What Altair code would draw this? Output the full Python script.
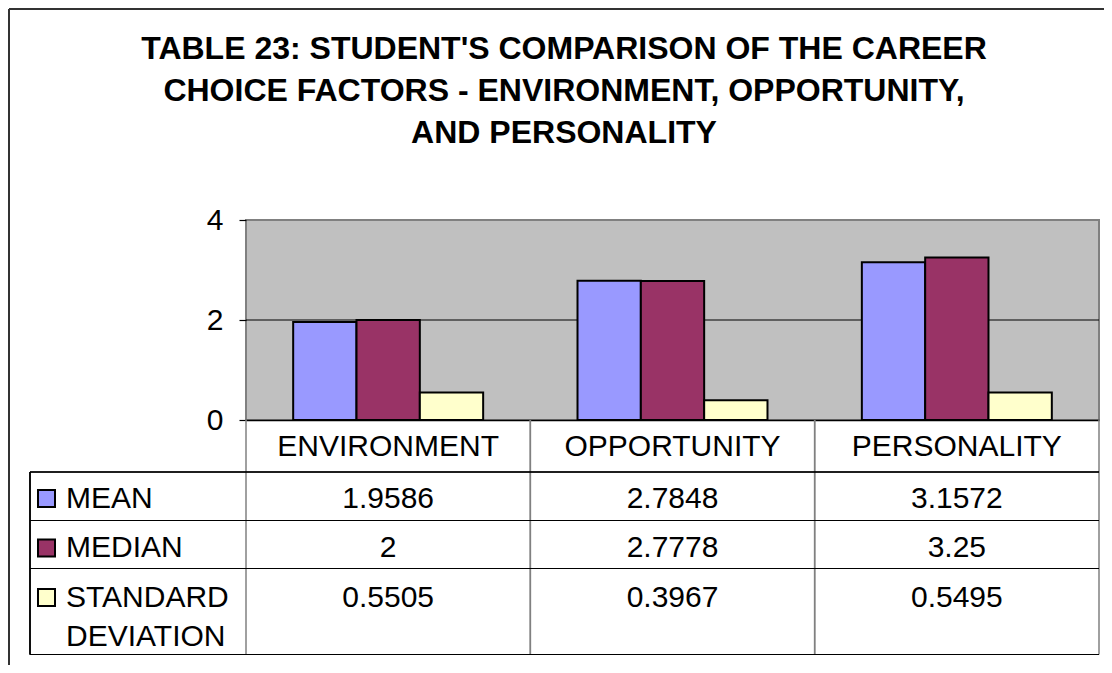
import altair as alt
import pandas as pd

# ---- data ----
categories = ["ENVIRONMENT", "OPPORTUNITY", "PERSONALITY"]
series = ["MEAN", "MEDIAN", "STANDARD DEVIATION"]
series_labels = ["MEAN", "MEDIAN", "STANDARD\nDEVIATION"]
mean = [1.9586, 2.7848, 3.1572]
median = [2, 2.7778, 3.25]
std_dev = [0.5505, 0.3967, 0.5495]
colors = ["#9999FF", "#993366", "#FFFFCC"]
y_ticks = [0, 2, 4]
title_lines = [
    "TABLE 23: STUDENT'S COMPARISON OF THE CAREER",
    "CHOICE FACTORS - ENVIRONMENT, OPPORTUNITY,",
    "AND PERSONALITY",
]

rows = []
for s, vals in zip(series, [mean, median, std_dev]):
    for c, v in zip(categories, vals):
        rows.append({"cat": c, "series": s, "value": v, "text": str(v)})
df = pd.DataFrame(rows)
legend_df = pd.DataFrame({"series": series, "label": series_labels})
cat_df = pd.DataFrame({"cat": categories})

FONT = "Liberation Sans"
W, H = 853, 200

x_scale = alt.Scale(domain=categories, paddingInner=0, paddingOuter=0)
y_scale = alt.Scale(domain=[0, 4], nice=False)
color_scale = alt.Scale(domain=series, range=colors)
row_scale = alt.Scale(domain=series, type="point", range=[287.5, 386.5], padding=0)

x_axis = alt.Axis(title=None, orient="bottom", domain=True, domainColor="black",
                  domainWidth=1.5, ticks=False, tickSize=0, labelFontSize=30,
                  labelFont=FONT, labelColor="black", labelPadding=26,
                  labelBaseline="middle", labelAngle=0, labelLimit=400)
y_axis = alt.Axis(title=None, orient="left", values=y_ticks, grid=False, domain=False,
                  ticks=True, tickSize=7, tickColor="black", tickWidth=1.2,
                  labelFontSize=30, labelFont=FONT, labelColor="black",
                  labelPadding=16)

# ---- bar plot ----
grid = alt.Chart(pd.DataFrame({"value": [2]})).mark_rule(color="black", strokeWidth=1).encode(
    y=alt.Y("value:Q", scale=y_scale, axis=y_axis)
)
bars = alt.Chart(df).mark_bar(stroke="black", strokeWidth=2).encode(
    x=alt.X("cat:N", scale=x_scale, sort=categories, axis=x_axis),
    xOffset=alt.XOffset("series:N", sort=series,
                        scale=alt.Scale(domain=series, paddingInner=0, paddingOuter=0.745)),
    y=alt.Y("value:Q", scale=y_scale, axis=y_axis),
    color=alt.Color("series:N", scale=color_scale, legend=None),
)
plot = alt.layer(grid, bars)

# ---- data table ----
vals_text = alt.Chart(df).mark_text(font=FONT, fontSize=30, baseline="alphabetic",
                                    align="center", color="black").encode(
    x=alt.X("cat:N", scale=x_scale, sort=categories, axis=x_axis),
    y=alt.Y("series:N", scale=row_scale, axis=None),
    text="text:N",
)
labels = alt.Chart(legend_df).mark_text(font=FONT, fontSize=30, baseline="alphabetic",
                                        align="left", lineBreak="\n", lineHeight=39,
                                        color="black").encode(
    x=alt.value(-180),
    y=alt.Y("series:N", scale=row_scale, axis=None),
    text="label:N",
)
swatches = alt.Chart(legend_df).mark_square(size=289, stroke="black", strokeWidth=2,
                                           opacity=1, filled=True).encode(
    x=alt.value(-199.5),
    y=alt.Y("series:N", scale=row_scale, axis=None),
    yOffset=alt.value(-9),
    color=alt.Color("series:N", scale=color_scale, legend=None),
)
table = alt.layer(vals_text, labels, swatches)

# category dividers (band edges)
div_start = alt.Chart(cat_df).mark_rule(color="#808080", strokeWidth=1.5).encode(
    x=alt.X("cat:N", bandPosition=0, scale=x_scale, sort=categories, axis=x_axis),
    y=alt.value(200), y2=alt.value(434.5),
)
div_end = alt.Chart(cat_df).mark_rule(color="#808080", strokeWidth=1.5).encode(
    x=alt.X("cat:N", bandPosition=1, scale=x_scale, sort=categories, axis=x_axis),
    y=alt.value(200), y2=alt.value(434.5),
)

line_y = [252, 300.5, 348.5, 434.5]
hlines = [
    alt.Chart(cat_df).mark_rule(color="black", strokeWidth=1.2).encode(
        x=alt.value(-216), x2=alt.value(W), y=alt.value(yy))
    for yy in line_y
]
left_line = alt.Chart(cat_df).mark_rule(color="black", strokeWidth=1.2).encode(
    x=alt.value(-216), y=alt.value(252), y2=alt.value(434.5))

# outer chart border
border_left = alt.Chart(cat_df).mark_rule(color="#333333", strokeWidth=2).encode(
    x=alt.value(-237), y=alt.value(-211), y2=alt.value(450))
border_top = alt.Chart(cat_df).mark_rule(color="#333333", strokeWidth=2).encode(
    x=alt.value(-237), x2=alt.value(W + 10), y=alt.value(-211))

title = alt.Chart(pd.DataFrame({"t": ["\n".join(title_lines)]})).mark_text(
    font=FONT, fontSize=32, fontWeight="bold", lineBreak="\n", lineHeight=42,
    align="center", baseline="alphabetic", color="black"
).encode(x=alt.value(318), y=alt.value(-161.5), text="t:N")

chart = alt.layer(
    border_left, border_top, title, plot, table, div_start, div_end, left_line, *hlines
).resolve_scale(y="independent").properties(
    width=W, height=H,
    autosize=alt.AutoSizeParams(type="none"),
    padding={"left": 238, "top": 212, "right": 5, "bottom": 245},
    background="white",
).configure_view(stroke="#808080", strokeWidth=2, fill="#C0C0C0")

chart.save("out.html", embed_options={"renderer": "svg", "actions": False})
